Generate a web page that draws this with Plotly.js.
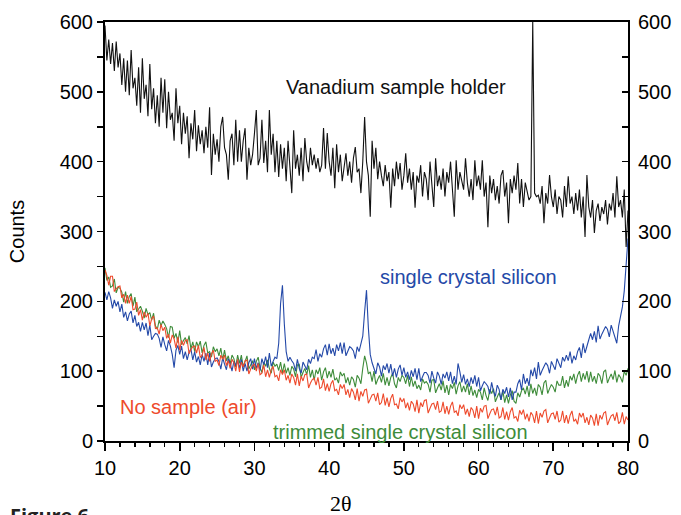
<!DOCTYPE html>
<html><head><meta charset="utf-8">
<script src="https://cdn.plot.ly/plotly-3.0.1.min.js"></script>
<style>html,body{margin:0;padding:0;background:#fff;} #chart{width:681px;height:515px;}</style>
</head><body><div id="chart"></div>
<script>
// 2-theta grid: 10 .. 80 in steps of 0.25
const xStart = 10, xStep = 0.25;

const vanadium = [
595,545,575,540, 570,530,572,535, 555,510,548,500, 545,495,560,505, 520,480,535,470,
548,490,510,465, 540,475,505,455, 495,450,520,470, 518,448,500,460, 470,430,505,455,
480,425,470,440, 465,405,455,432, 474,415,452,425, 445,412,450,420, 478,381,440,410,
432,400,450,464, 420,410,374,430, 440,395,460,400, 445,400,430,448, 374,420,395,410,
440,474,395,405, 460,398,430,385, 474,410,440,385, 430,378,425,390, 420,372,430,395,
355,445,390,410, 380,420,372,434, 400,385,420,395, 410,390,405,385, 395,448,390,441,
400,380,420,362, 425,385,410,372, 395,412,380,400, 370,405,421,385, 390,355,400,464,
400,380,321,430, 390,420,375,400, 380,365,395,372, 385,334,390,365, 400,375,398,360,
380,412,370,390, 360,385,334,380, 370,395,350,385, 375,345,400,360, 335,405,365,380,
360,390,350,385, 370,400,355,321, 402,360,385,370, 360,405,370,350, 375,345,402,365,
380,360,402,350, 370,306,380,355, 375,345,365,340, 380,388,350,370, 312,375,355,380,
360,398,340,375, 335,370,355,345, 350,600,355,350, 352,340,365,312, 355,340,381,350,
335,360,325,350, 345,320,365,335, 379,340,350,325, 355,330,360,320, 350,292,381,335,
320,345,298,330, 340,315,335,325, 345,310,340,330, 355,320,379,335, 345,320,360,278,
330];

const noSample = [
245,237,223,236, 236,214,218,221, 222,205,210,197, 209,197,207,188, 189,199,180,188,
173,185,177,183, 165,175,179,161, 162,153,167,158, 163,147,153,140, 152,146,133,149,
130,144,137,144, 145,125,131,135, 136,126,137,120, 122,134,116,126, 114,125,130,114,
116,108,123,117, 123,108,115,104, 117,112,100,117, 99,113,106,115, 116,96,103,108,
110,100,111,95, 97,109,92,102, 91,102,107,92, 94,86,102,95, 102,87,94,83,
96,91,80,96, 79,93,86,95, 96,76,83,88, 90,80,91,75, 77,89,72,82,
71,82,87,72, 74,66,81,75, 81,66,74,62, 75,70,59,75, 57,71,64,73,
74,54,60,66, 67,57,69,52, 55,68,51,62, 49,61,67,52, 53,46,62,56,
61,47,55,44, 57,53,42,59, 40,55,49,58, 59,40,47,53, 54,45,57,41,
43,56,39,50, 38,50,56,41, 43,36,52,46, 52,38,46,35, 48,44,33,50,
32,47,41,50, 51,32,39,45, 46,37,49,33, 35,48,31,42, 30,42,48,33,
35,28,44,38, 45,31,39,28, 41,37,26,43, 25,40,34,43, 45,26,33,39,
40,31,43,27, 30,43,26,37, 25,37,43,28, 31,24,40,34, 40,26,34,23,
37,33,22,39, 22,37,31,40, 42,23,30,36, 38,29,41,25, 28,41,24,35,
30];

const trimmedSi = [
248,230,235,220, 222,232,212,220, 219,213,199,214, 197,207,211,193, 206,185,189,193,
186,176,190,181, 184,173,183,165, 160,173,165,172, 167,161,148,164, 163,147,154,141,
158,138,144,148, 139,151,132,142, 128,142,135,143, 126,137,142,126, 128,120,135,128,
132,122,133,116, 130,115,122,110, 123,118,106,123, 111,123,106,116, 122,103,109,115,
102,114,120,105, 98,113,107,116, 104,97,113,107, 110,101,113,97, 111,97,105,94,
107,103,92,109, 110,91,98,104, 95,108,91,102, 87,102,96,105, 87,99,105,90,
100,91,103,87, 90,83,99,93, 97,83,91,80, 92,88,77,94, 90,82,104,122,
112,96,99,85, 100,81,88,94, 84,97,80,91, 79,91,97,82, 76,91,85,94,
91,82,94,78, 92,78,86,75, 80,73,89,83, 85,81,70,87, 88,69,76,82,
73,86,69,80, 66,81,75,84, 67,79,85,70, 79,70,82,66, 79,65,73,62,
74,70,59,76, 65,58,74,68, 75,56,63,69, 59,72,55,66, 54,66,72,57,
54,69,63,72, 76,67,79,63, 82,68,76,65, 81,77,66,83, 87,68,75,81,
77,70,86,80, 80,93,76,87, 78,93,87,96, 82,94,100,85, 97,88,100,84,
99,85,93,82, 97,93,82,99, 102,83,90,96, 88,101,84,95, 91,84,100,94,
104];

const singleSi = [
213,202,214,205, 190,202,193,200, 185,196,177,185, 172,182,186,169, 180,164,170,157,
170,159,169,151, 166,145,150,154, 153,147,134,149, 138,129,144,136, 124,105,130,137,
124,136,118,128, 116,127,132,116, 128,113,121,109, 124,114,126,109, 126,106,113,118,
119,114,103,119, 110,102,118,111, 100,114,108,116, 104,117,100,111, 100,112,118,103,
118,104,112,101, 118,109,121,105, 126,107,114,120, 118,140,197,223, 168,128,114,120,
115,111,100,117, 104,97,113,107, 102,117,111,120, 118,131,114,125, 120,132,138,123,
139,125,133,122, 138,129,141,125, 141,122,129,135, 133,129,118,135, 128,140,150,185,
216,162,124,112, 103,96,112,106, 93,108,102,111, 97,110,93,104, 91,103,109,94,
105,91,99,88, 101,92,104,88, 104,85,92,98, 98,94,83,100, 90,83,99,93,
81,96,90,99, 86,99,82,93, 81,111,99,84, 95,81,89,78, 91,82,94,78,
91,72,79,85, 82,78,67,84, 71,64,80,74, 59,74,68,77, 63,76,59,70,
70,82,88,73, 96,82,90,79, 102,93,105,89, 113,94,101,107, 112,108,97,114,
109,102,118,112, 105,120,114,123, 115,128,111,122, 116,128,134,119, 140,126,134,145,
154,145,157,141, 165,146,153,159, 164,160,149,166, 156,149,140,165, 178,192,215,250,
290];

const xTickVals = [10, 20, 30, 40, 50, 60, 70, 80];
const xMinorVals = [12, 14, 16, 18, 22, 24, 26, 28, 32, 34, 36, 38, 42, 44, 46, 48,
                    52, 54, 56, 58, 62, 64, 66, 68, 72, 74, 76, 78];
const yTickVals = [0, 100, 200, 300, 400, 500, 600];
const yMinorVals = [50, 150, 250, 350, 450, 550];

function twoTheta(n) { const a = []; for (let i = 0; i < n; i++) a.push(xStart + i * xStep); return a; }

const SANS = 'Liberation Sans, Arial, sans-serif';
const lw = 1.1;
const traces = [
  {x: twoTheta(vanadium.length), y: vanadium, mode: 'lines', line: {color: '#111111', width: lw}, name: 'Vanadium sample holder', xaxis: 'x2'},
  {x: twoTheta(trimmedSi.length), y: trimmedSi, mode: 'lines', line: {color: '#3e8c3a', width: lw}, name: 'trimmed single crystal silicon'},
  {x: twoTheta(singleSi.length), y: singleSi, mode: 'lines', line: {color: '#2449a8', width: lw}, name: 'single crystal silicon'},
  {x: twoTheta(noSample.length), y: noSample, mode: 'lines', line: {color: '#ee4a2c', width: lw}, name: 'No sample (air)', yaxis: 'y2'}
];

const tickFont = {family: SANS, size: 20, color: '#000'};
const layout = {
  width: 681, height: 515,
  margin: {l: 105, r: 53, t: 22, b: 74},
  paper_bgcolor: '#fff', plot_bgcolor: '#fff',
  showlegend: false,
  xaxis: {
    range: [10, 80], tickmode: 'array', tickvals: xTickVals,
    ticks: 'outside', ticklen: 8, tickwidth: 1.6, tickcolor: '#000',
    showline: true, linewidth: 2, linecolor: '#000', mirror: true,
    showgrid: false, zeroline: false, tickfont: tickFont
  },
  // minor ticks of the 2θ axis
  xaxis2: {
    overlaying: 'x', side: 'bottom', range: [10, 80], tickmode: 'array', tickvals: xMinorVals,
    ticks: 'outside', ticklen: 5, tickwidth: 1.4, tickcolor: '#000', showticklabels: false,
    showline: false, showgrid: false, zeroline: false
  },
  yaxis: {
    range: [0, 600], tickmode: 'array', tickvals: yTickVals, ticks: 'outside', ticklen: 6, tickwidth: 1.5, tickcolor: '#000',
    minor: {tickmode: 'array', tickvals: yMinorVals, ticks: 'outside', ticklen: 6, tickwidth: 1.5, tickcolor: '#000'},
    showline: true, linewidth: 2, linecolor: '#000',
    showgrid: false, zeroline: false, tickfont: tickFont,
    title: {text: 'Counts', font: {family: SANS, size: 20, color: '#000'}, standoff: 30}
  },
  yaxis2: {
    overlaying: 'y', side: 'right',
    range: [0, 600], tickmode: 'array', tickvals: yTickVals, ticks: 'inside', ticklen: 6, tickwidth: 1.5, tickcolor: '#000',
    minor: {tickmode: 'array', tickvals: yMinorVals, ticks: 'inside', ticklen: 6, tickwidth: 1.5, tickcolor: '#000'},
    showline: true, linewidth: 2, linecolor: '#000', ticklabelstandoff: 4,
    showgrid: false, zeroline: false, tickfont: tickFont
  },
  annotations: [
    {text: 'Vanadium sample holder', x: 49.0, y: 507, xref: 'x', yref: 'y', showarrow: false, font: {family: SANS, size: 20, color: '#111'}},
    {text: 'single crystal silicon', x: 58.7, y: 235, xref: 'x', yref: 'y', showarrow: false, font: {family: SANS, size: 20, color: '#2449a8'}},
    {text: 'No sample (air)', x: 21.2, y: 48.7, xref: 'x', yref: 'y', showarrow: false, font: {family: SANS, size: 20, color: '#ee4a2c'}},
    {text: 'trimmed single crystal silicon', x: 49.5, y: 13.5, xref: 'x', yref: 'y', showarrow: false, font: {family: SANS, size: 20, color: '#3e8c3a'}},
    {text: '2θ', x: 0.451, y: -0.148, xref: 'paper', yref: 'paper', xanchor: 'center', yanchor: 'middle', showarrow: false, font: {family: 'Liberation Serif, Times New Roman, serif', size: 22, color: '#000'}},
    {text: '<b>Figure 6</b>', x: -0.186, y: -0.141, xref: 'paper', yref: 'paper', xanchor: 'left', yanchor: 'top', showarrow: false, font: {family: 'Open Sans, Noto Sans, sans-serif', size: 20, color: '#222'}}
  ]
};

Plotly.newPlot('chart', traces, layout, {displayModeBar: false, staticPlot: true});
</script>
</body></html>
